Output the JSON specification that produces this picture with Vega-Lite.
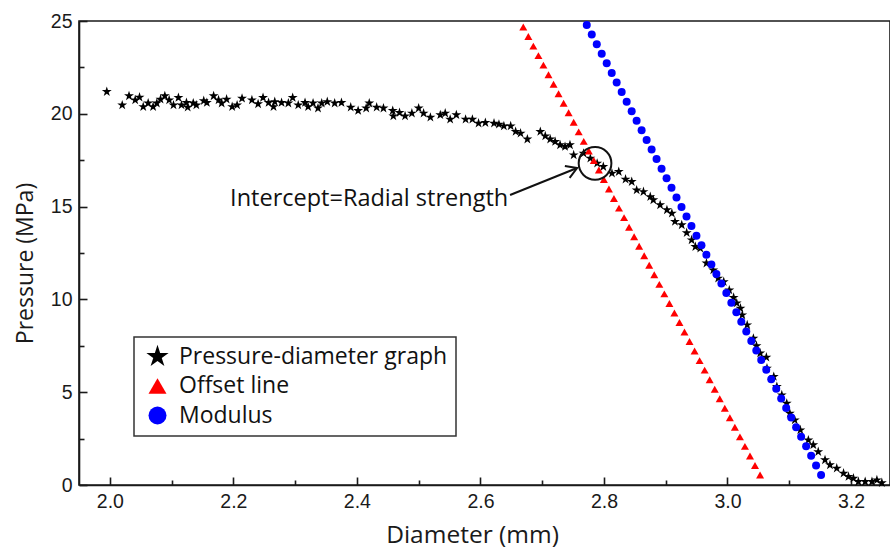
{
  "$schema": "https://vega.github.io/schema/vega-lite/v6.json",
  "width": 811,
  "height": 464,
  "autosize": {"type": "none"},
  "padding": {"left": 79, "top": 21, "right": 0, "bottom": 66},
  "background": "white",
  "config": {
    "view": {"stroke": "#1a1a1a", "strokeWidth": 1.6},
    "axis": {"grid": false, "domainColor": "#1a1a1a", "domainWidth": 1.6, "tickColor": "#1a1a1a", "tickWidth": 1.6, "labelFont": "Liberation Sans", "labelFontSize": 19.5, "labelColor": "#1a1a1a", "titleFont": "Open Sans", "titleFontWeight": "normal", "titleColor": "#1a1a1a"},
    "legend": {"padding": 8, "strokeColor": "#333", "strokeWidth": 1.5, "fillColor": "white", "labelFont": "Open Sans", "labelFontSize": 23, "labelColor": "#111", "labelLimit": 500, "symbolSize": 324, "rowPadding": 5.5, "labelOffset": 10, "symbolOffset": 4, "symbolStrokeWidth": 0}
  },
  "datasets": {
    "series": [
      {"series": "Pressure-diameter graph", "d": 1.995, "p": 21.19},
      {"series": "Pressure-diameter graph", "d": 2.020, "p": 20.47},
      {"series": "Pressure-diameter graph", "d": 2.031, "p": 20.96},
      {"series": "Pressure-diameter graph", "d": 2.041, "p": 20.74},
      {"series": "Pressure-diameter graph", "d": 2.048, "p": 20.89},
      {"series": "Pressure-diameter graph", "d": 2.054, "p": 20.38},
      {"series": "Pressure-diameter graph", "d": 2.062, "p": 20.57},
      {"series": "Pressure-diameter graph", "d": 2.070, "p": 20.38},
      {"series": "Pressure-diameter graph", "d": 2.076, "p": 20.57},
      {"series": "Pressure-diameter graph", "d": 2.082, "p": 20.78},
      {"series": "Pressure-diameter graph", "d": 2.089, "p": 20.96},
      {"series": "Pressure-diameter graph", "d": 2.096, "p": 20.74},
      {"series": "Pressure-diameter graph", "d": 2.103, "p": 20.47},
      {"series": "Pressure-diameter graph", "d": 2.111, "p": 20.87},
      {"series": "Pressure-diameter graph", "d": 2.116, "p": 20.47},
      {"series": "Pressure-diameter graph", "d": 2.124, "p": 20.6},
      {"series": "Pressure-diameter graph", "d": 2.126, "p": 20.35},
      {"series": "Pressure-diameter graph", "d": 2.135, "p": 20.57},
      {"series": "Pressure-diameter graph", "d": 2.140, "p": 20.47},
      {"series": "Pressure-diameter graph", "d": 2.152, "p": 20.7},
      {"series": "Pressure-diameter graph", "d": 2.157, "p": 20.6},
      {"series": "Pressure-diameter graph", "d": 2.168, "p": 20.96},
      {"series": "Pressure-diameter graph", "d": 2.176, "p": 20.74},
      {"series": "Pressure-diameter graph", "d": 2.181, "p": 20.57},
      {"series": "Pressure-diameter graph", "d": 2.189, "p": 20.78},
      {"series": "Pressure-diameter graph", "d": 2.198, "p": 20.38},
      {"series": "Pressure-diameter graph", "d": 2.206, "p": 20.47},
      {"series": "Pressure-diameter graph", "d": 2.214, "p": 20.83},
      {"series": "Pressure-diameter graph", "d": 2.230, "p": 20.74},
      {"series": "Pressure-diameter graph", "d": 2.240, "p": 20.53},
      {"series": "Pressure-diameter graph", "d": 2.248, "p": 20.87},
      {"series": "Pressure-diameter graph", "d": 2.257, "p": 20.6},
      {"series": "Pressure-diameter graph", "d": 2.265, "p": 20.38},
      {"series": "Pressure-diameter graph", "d": 2.267, "p": 20.65},
      {"series": "Pressure-diameter graph", "d": 2.278, "p": 20.6},
      {"series": "Pressure-diameter graph", "d": 2.289, "p": 20.57},
      {"series": "Pressure-diameter graph", "d": 2.296, "p": 20.87},
      {"series": "Pressure-diameter graph", "d": 2.305, "p": 20.47},
      {"series": "Pressure-diameter graph", "d": 2.316, "p": 20.6},
      {"series": "Pressure-diameter graph", "d": 2.321, "p": 20.38},
      {"series": "Pressure-diameter graph", "d": 2.329, "p": 20.57},
      {"series": "Pressure-diameter graph", "d": 2.337, "p": 20.3},
      {"series": "Pressure-diameter graph", "d": 2.343, "p": 20.57},
      {"series": "Pressure-diameter graph", "d": 2.352, "p": 20.65},
      {"series": "Pressure-diameter graph", "d": 2.364, "p": 20.57},
      {"series": "Pressure-diameter graph", "d": 2.375, "p": 20.6},
      {"series": "Pressure-diameter graph", "d": 2.390, "p": 20.35},
      {"series": "Pressure-diameter graph", "d": 2.402, "p": 20.17},
      {"series": "Pressure-diameter graph", "d": 2.415, "p": 20.3},
      {"series": "Pressure-diameter graph", "d": 2.420, "p": 20.57},
      {"series": "Pressure-diameter graph", "d": 2.432, "p": 20.35},
      {"series": "Pressure-diameter graph", "d": 2.443, "p": 20.3},
      {"series": "Pressure-diameter graph", "d": 2.458, "p": 20.17},
      {"series": "Pressure-diameter graph", "d": 2.459, "p": 19.88},
      {"series": "Pressure-diameter graph", "d": 2.469, "p": 20.06},
      {"series": "Pressure-diameter graph", "d": 2.478, "p": 19.88},
      {"series": "Pressure-diameter graph", "d": 2.489, "p": 20.03},
      {"series": "Pressure-diameter graph", "d": 2.500, "p": 20.3},
      {"series": "Pressure-diameter graph", "d": 2.508, "p": 20.03},
      {"series": "Pressure-diameter graph", "d": 2.519, "p": 19.81},
      {"series": "Pressure-diameter graph", "d": 2.535, "p": 19.94},
      {"series": "Pressure-diameter graph", "d": 2.543, "p": 20.03},
      {"series": "Pressure-diameter graph", "d": 2.551, "p": 19.7},
      {"series": "Pressure-diameter graph", "d": 2.561, "p": 19.94},
      {"series": "Pressure-diameter graph", "d": 2.576, "p": 19.7},
      {"series": "Pressure-diameter graph", "d": 2.587, "p": 19.7},
      {"series": "Pressure-diameter graph", "d": 2.597, "p": 19.49},
      {"series": "Pressure-diameter graph", "d": 2.608, "p": 19.52},
      {"series": "Pressure-diameter graph", "d": 2.622, "p": 19.49},
      {"series": "Pressure-diameter graph", "d": 2.630, "p": 19.43},
      {"series": "Pressure-diameter graph", "d": 2.638, "p": 19.34},
      {"series": "Pressure-diameter graph", "d": 2.649, "p": 19.34},
      {"series": "Pressure-diameter graph", "d": 2.657, "p": 19.04},
      {"series": "Pressure-diameter graph", "d": 2.665, "p": 18.95},
      {"series": "Pressure-diameter graph", "d": 2.676, "p": 18.63},
      {"series": "Pressure-diameter graph", "d": 2.697, "p": 19.04},
      {"series": "Pressure-diameter graph", "d": 2.705, "p": 18.8},
      {"series": "Pressure-diameter graph", "d": 2.713, "p": 18.63},
      {"series": "Pressure-diameter graph", "d": 2.721, "p": 18.5},
      {"series": "Pressure-diameter graph", "d": 2.729, "p": 18.32},
      {"series": "Pressure-diameter graph", "d": 2.737, "p": 18.23},
      {"series": "Pressure-diameter graph", "d": 2.745, "p": 18.32},
      {"series": "Pressure-diameter graph", "d": 2.751, "p": 17.78},
      {"series": "Pressure-diameter graph", "d": 2.767, "p": 17.87},
      {"series": "Pressure-diameter graph", "d": 2.778, "p": 17.6},
      {"series": "Pressure-diameter graph", "d": 2.789, "p": 17.33},
      {"series": "Pressure-diameter graph", "d": 2.799, "p": 17.15},
      {"series": "Pressure-diameter graph", "d": 2.813, "p": 16.79},
      {"series": "Pressure-diameter graph", "d": 2.824, "p": 16.88},
      {"series": "Pressure-diameter graph", "d": 2.835, "p": 16.47},
      {"series": "Pressure-diameter graph", "d": 2.845, "p": 16.34},
      {"series": "Pressure-diameter graph", "d": 2.853, "p": 15.89},
      {"series": "Pressure-diameter graph", "d": 2.864, "p": 15.8},
      {"series": "Pressure-diameter graph", "d": 2.875, "p": 15.53},
      {"series": "Pressure-diameter graph", "d": 2.880, "p": 15.36},
      {"series": "Pressure-diameter graph", "d": 2.891, "p": 15.09},
      {"series": "Pressure-diameter graph", "d": 2.902, "p": 14.82},
      {"series": "Pressure-diameter graph", "d": 2.910, "p": 14.64},
      {"series": "Pressure-diameter graph", "d": 2.915, "p": 14.19},
      {"series": "Pressure-diameter graph", "d": 2.926, "p": 14.01},
      {"series": "Pressure-diameter graph", "d": 2.934, "p": 13.59},
      {"series": "Pressure-diameter graph", "d": 2.942, "p": 13.2},
      {"series": "Pressure-diameter graph", "d": 2.948, "p": 12.84},
      {"series": "Pressure-diameter graph", "d": 2.956, "p": 12.75},
      {"series": "Pressure-diameter graph", "d": 2.966, "p": 11.95},
      {"series": "Pressure-diameter graph", "d": 2.977, "p": 11.58},
      {"series": "Pressure-diameter graph", "d": 2.985, "p": 11.14},
      {"series": "Pressure-diameter graph", "d": 2.994, "p": 10.95},
      {"series": "Pressure-diameter graph", "d": 3.003, "p": 10.5},
      {"series": "Pressure-diameter graph", "d": 3.010, "p": 10.1},
      {"series": "Pressure-diameter graph", "d": 3.015, "p": 9.8},
      {"series": "Pressure-diameter graph", "d": 3.021, "p": 9.52},
      {"series": "Pressure-diameter graph", "d": 3.024, "p": 9.16},
      {"series": "Pressure-diameter graph", "d": 3.032, "p": 8.62},
      {"series": "Pressure-diameter graph", "d": 3.042, "p": 7.9},
      {"series": "Pressure-diameter graph", "d": 3.047, "p": 7.5},
      {"series": "Pressure-diameter graph", "d": 3.053, "p": 7.1},
      {"series": "Pressure-diameter graph", "d": 3.063, "p": 6.88},
      {"series": "Pressure-diameter graph", "d": 3.064, "p": 6.29},
      {"series": "Pressure-diameter graph", "d": 3.075, "p": 5.84},
      {"series": "Pressure-diameter graph", "d": 3.080, "p": 5.3},
      {"series": "Pressure-diameter graph", "d": 3.088, "p": 4.85},
      {"series": "Pressure-diameter graph", "d": 3.096, "p": 4.4},
      {"series": "Pressure-diameter graph", "d": 3.101, "p": 3.86},
      {"series": "Pressure-diameter graph", "d": 3.109, "p": 3.5},
      {"series": "Pressure-diameter graph", "d": 3.118, "p": 2.96},
      {"series": "Pressure-diameter graph", "d": 3.131, "p": 2.42},
      {"series": "Pressure-diameter graph", "d": 3.139, "p": 2.16},
      {"series": "Pressure-diameter graph", "d": 3.147, "p": 1.79},
      {"series": "Pressure-diameter graph", "d": 3.158, "p": 1.35},
      {"series": "Pressure-diameter graph", "d": 3.166, "p": 1.08},
      {"series": "Pressure-diameter graph", "d": 3.177, "p": 0.9},
      {"series": "Pressure-diameter graph", "d": 3.188, "p": 0.63},
      {"series": "Pressure-diameter graph", "d": 3.196, "p": 0.45},
      {"series": "Pressure-diameter graph", "d": 3.204, "p": 0.36},
      {"series": "Pressure-diameter graph", "d": 3.212, "p": 0.18},
      {"series": "Pressure-diameter graph", "d": 3.223, "p": 0.18},
      {"series": "Pressure-diameter graph", "d": 3.234, "p": 0.18},
      {"series": "Pressure-diameter graph", "d": 3.242, "p": 0.27},
      {"series": "Pressure-diameter graph", "d": 3.250, "p": 0.12},
      {"series": "Offset line", "d": 3.0528, "p": 0.540},
      {"series": "Offset line", "d": 3.0446, "p": 1.054},
      {"series": "Offset line", "d": 3.0365, "p": 1.567},
      {"series": "Offset line", "d": 3.0283, "p": 2.081},
      {"series": "Offset line", "d": 3.0202, "p": 2.594},
      {"series": "Offset line", "d": 3.0120, "p": 3.108},
      {"series": "Offset line", "d": 3.0039, "p": 3.621},
      {"series": "Offset line", "d": 2.9957, "p": 4.135},
      {"series": "Offset line", "d": 2.9875, "p": 4.648},
      {"series": "Offset line", "d": 2.9794, "p": 5.162},
      {"series": "Offset line", "d": 2.9712, "p": 5.675},
      {"series": "Offset line", "d": 2.9631, "p": 6.189},
      {"series": "Offset line", "d": 2.9549, "p": 6.702},
      {"series": "Offset line", "d": 2.9468, "p": 7.216},
      {"series": "Offset line", "d": 2.9386, "p": 7.729},
      {"series": "Offset line", "d": 2.9304, "p": 8.243},
      {"series": "Offset line", "d": 2.9223, "p": 8.756},
      {"series": "Offset line", "d": 2.9141, "p": 9.270},
      {"series": "Offset line", "d": 2.9060, "p": 9.783},
      {"series": "Offset line", "d": 2.8978, "p": 10.297},
      {"series": "Offset line", "d": 2.8897, "p": 10.810},
      {"series": "Offset line", "d": 2.8815, "p": 11.324},
      {"series": "Offset line", "d": 2.8733, "p": 11.837},
      {"series": "Offset line", "d": 2.8652, "p": 12.351},
      {"series": "Offset line", "d": 2.8570, "p": 12.864},
      {"series": "Offset line", "d": 2.8489, "p": 13.378},
      {"series": "Offset line", "d": 2.8407, "p": 13.891},
      {"series": "Offset line", "d": 2.8326, "p": 14.405},
      {"series": "Offset line", "d": 2.8244, "p": 14.918},
      {"series": "Offset line", "d": 2.8162, "p": 15.432},
      {"series": "Offset line", "d": 2.8081, "p": 15.945},
      {"series": "Offset line", "d": 2.7999, "p": 16.459},
      {"series": "Offset line", "d": 2.7918, "p": 16.972},
      {"series": "Offset line", "d": 2.7836, "p": 17.486},
      {"series": "Offset line", "d": 2.7755, "p": 17.999},
      {"series": "Offset line", "d": 2.7673, "p": 18.513},
      {"series": "Offset line", "d": 2.7591, "p": 19.026},
      {"series": "Offset line", "d": 2.7510, "p": 19.540},
      {"series": "Offset line", "d": 2.7428, "p": 20.053},
      {"series": "Offset line", "d": 2.7347, "p": 20.567},
      {"series": "Offset line", "d": 2.7265, "p": 21.080},
      {"series": "Offset line", "d": 2.7184, "p": 21.594},
      {"series": "Offset line", "d": 2.7102, "p": 22.107},
      {"series": "Offset line", "d": 2.7020, "p": 22.621},
      {"series": "Offset line", "d": 2.6939, "p": 23.134},
      {"series": "Offset line", "d": 2.6857, "p": 23.648},
      {"series": "Offset line", "d": 2.6776, "p": 24.161},
      {"series": "Offset line", "d": 2.6694, "p": 24.675},
      {"series": "Modulus", "d": 3.1516, "p": 0.539},
      {"series": "Modulus", "d": 3.1435, "p": 1.055},
      {"series": "Modulus", "d": 3.1355, "p": 1.571},
      {"series": "Modulus", "d": 3.1274, "p": 2.086},
      {"series": "Modulus", "d": 3.1193, "p": 2.602},
      {"series": "Modulus", "d": 3.1112, "p": 3.118},
      {"series": "Modulus", "d": 3.1032, "p": 3.634},
      {"series": "Modulus", "d": 3.0951, "p": 4.150},
      {"series": "Modulus", "d": 3.0870, "p": 4.665},
      {"series": "Modulus", "d": 3.0790, "p": 5.181},
      {"series": "Modulus", "d": 3.0709, "p": 5.697},
      {"series": "Modulus", "d": 3.0628, "p": 6.213},
      {"series": "Modulus", "d": 3.0547, "p": 6.729},
      {"series": "Modulus", "d": 3.0467, "p": 7.244},
      {"series": "Modulus", "d": 3.0386, "p": 7.760},
      {"series": "Modulus", "d": 3.0305, "p": 8.276},
      {"series": "Modulus", "d": 3.0224, "p": 8.792},
      {"series": "Modulus", "d": 3.0144, "p": 9.308},
      {"series": "Modulus", "d": 3.0063, "p": 9.823},
      {"series": "Modulus", "d": 2.9982, "p": 10.339},
      {"series": "Modulus", "d": 2.9902, "p": 10.855},
      {"series": "Modulus", "d": 2.9821, "p": 11.371},
      {"series": "Modulus", "d": 2.9740, "p": 11.887},
      {"series": "Modulus", "d": 2.9659, "p": 12.402},
      {"series": "Modulus", "d": 2.9579, "p": 12.918},
      {"series": "Modulus", "d": 2.9498, "p": 13.434},
      {"series": "Modulus", "d": 2.9417, "p": 13.950},
      {"series": "Modulus", "d": 2.9337, "p": 14.466},
      {"series": "Modulus", "d": 2.9256, "p": 14.981},
      {"series": "Modulus", "d": 2.9175, "p": 15.497},
      {"series": "Modulus", "d": 2.9094, "p": 16.013},
      {"series": "Modulus", "d": 2.9014, "p": 16.529},
      {"series": "Modulus", "d": 2.8933, "p": 17.045},
      {"series": "Modulus", "d": 2.8852, "p": 17.560},
      {"series": "Modulus", "d": 2.8772, "p": 18.076},
      {"series": "Modulus", "d": 2.8691, "p": 18.592},
      {"series": "Modulus", "d": 2.8610, "p": 19.108},
      {"series": "Modulus", "d": 2.8529, "p": 19.624},
      {"series": "Modulus", "d": 2.8449, "p": 20.139},
      {"series": "Modulus", "d": 2.8368, "p": 20.655},
      {"series": "Modulus", "d": 2.8287, "p": 21.171},
      {"series": "Modulus", "d": 2.8206, "p": 21.687},
      {"series": "Modulus", "d": 2.8126, "p": 22.203},
      {"series": "Modulus", "d": 2.8045, "p": 22.718},
      {"series": "Modulus", "d": 2.7964, "p": 23.234},
      {"series": "Modulus", "d": 2.7884, "p": 23.750},
      {"series": "Modulus", "d": 2.7803, "p": 24.266},
      {"series": "Modulus", "d": 2.7722, "p": 24.782}
    ],
    "ring": [{"d": 2.7856, "p": 17.33}],
    "arrow": [{"d": 2.648, "p": 15.625, "d2": 2.7565, "p2": 17.08}],
    "head": [{"d": 2.7565, "p": 17.08}],
    "note": [{"d": 2.645, "p": 15.41, "label": "Intercept=Radial strength"}]
  },
  "layer": [
    {
      "data": {"name": "series"},
      "mark": {"type": "point", "filled": true, "opacity": 1, "size": 64, "strokeWidth": 0},
      "encoding": {
        "x": {"field": "d", "type": "quantitative", "scale": {"domain": [1.95, 3.2632], "nice": false, "zero": false},
          "axis": {"orient": "bottom", "title": "Diameter (mm)", "titleFontSize": 24.5, "titleX": 393, "titleY": 57, "titleBaseline": "alphabetic", "titleAlign": "center", "titleAnchor": "start",
            "values": [2.0, 2.1, 2.2, 2.3, 2.4, 2.5, 2.6, 2.7, 2.8, 2.9, 3.0, 3.1, 3.2],
            "labelExpr": "abs(datum.value*5 - round(datum.value*5)) < 0.01 ? format(datum.value, '.1f') : ''",
            "tickSize": {"condition": {"test": "abs(datum.value*5 - round(datum.value*5)) < 0.01", "value": -8}, "value": -5},
            "labelPadding": 15, "labelBaseline": "top"}},
        "y": {"field": "p", "type": "quantitative", "scale": {"domain": [0, 25], "nice": false},
          "axis": {"title": "Pressure (MPa)", "titleFontSize": 23, "titleX": -47, "titleY": 242, "titleAngle": -90, "titleBaseline": "alphabetic", "titleAlign": "center", "titleAnchor": "start",
            "values": [0, 2.5, 5, 7.5, 10, 12.5, 15, 17.5, 20, 22.5, 25],
            "labelExpr": "datum.value % 5 === 0 ? format(datum.value, 'd') : ''",
            "tickSize": {"condition": {"test": "datum.value % 5 === 0", "value": -8}, "value": -5},
            "labelPadding": 15}},
        "color": {"field": "series", "type": "nominal", "scale": {"domain": ["Pressure-diameter graph", "Offset line", "Modulus"], "range": ["#000000", "#ff0000", "#0000ff"]}, "legend": {"orient": "none", "legendX": 55, "legendY": 316, "title": null}},
        "shape": {"field": "series", "type": "nominal", "scale": {"domain": ["Pressure-diameter graph", "Offset line", "Modulus"], "range": ["M0,-1.3L0.292,-0.402L1.236,-0.402L0.472,0.153L0.764,1.052L0,0.497L-0.764,1.052L-0.472,0.153L-1.236,-0.402L-0.292,-0.402Z", "triangle-up", "circle"]}}
      }
    },
    {
      "data": {"name": "ring"},
      "mark": {"type": "point", "shape": "circle", "filled": false, "stroke": "#111", "strokeWidth": 2, "size": 1070, "opacity": 1},
      "encoding": {
        "x": {"field": "d", "type": "quantitative"},
        "y": {"field": "p", "type": "quantitative"}
      }
    },
    {
      "data": {"name": "arrow"},
      "mark": {"type": "rule", "stroke": "#111", "strokeWidth": 2},
      "encoding": {
        "x": {"field": "d", "type": "quantitative"},
        "y": {"field": "p", "type": "quantitative"},
        "x2": {"field": "d2"},
        "y2": {"field": "p2"}
      }
    },
    {
      "data": {"name": "head"},
      "mark": {"type": "point", "shape": "M-1.5,-0.9L0,0L-1.5,0.9", "angle": -22, "filled": false, "stroke": "#111", "strokeWidth": 2, "size": 200, "opacity": 1},
      "encoding": {
        "x": {"field": "d", "type": "quantitative"},
        "y": {"field": "p", "type": "quantitative"}
      }
    },
    {
      "data": {"name": "note"},
      "mark": {"type": "text", "align": "right", "baseline": "middle", "font": "Open Sans", "fontSize": 23.5, "color": "#111"},
      "encoding": {
        "x": {"field": "d", "type": "quantitative"},
        "y": {"field": "p", "type": "quantitative"},
        "text": {"field": "label"}
      }
    }
  ]
}
